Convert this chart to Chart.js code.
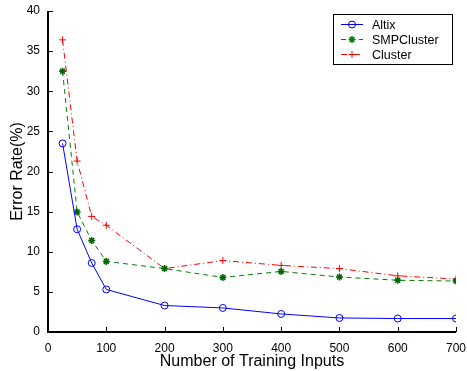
<!DOCTYPE html>
<html>
<head>
<meta charset="utf-8">
<script src="https://cdn.jsdelivr.net/npm/chart.js@4/dist/chart.umd.min.js"></script>
<style>
html,body{margin:0;padding:0;background:#fff;}
#wrap{width:467px;height:371px;position:relative;}
</style>
</head>
<body>
<div id="wrap"><canvas id="c" width="467" height="371"></canvas></div>
<script>
const inputs = [25, 50, 75, 100, 200, 300, 400, 500, 600, 700];
const altix = [23.5, 12.8, 8.6, 5.3, 3.3, 3.0, 2.25, 1.75, 1.68, 1.68];
const smpCluster = [32.5, 14.95, 11.4, 8.8, 7.9, 6.8, 7.55, 6.85, 6.45, 6.35];
const cluster = [36.4, 21.3, 14.4, 13.3, 7.9, 8.9, 8.3, 7.9, 7.0, 6.6];
const xTicks = [0, 100, 200, 300, 400, 500, 600, 700];
const yTicks = [0, 5, 10, 15, 20, 25, 30, 35, 40];
const seriesNames = ['Altix', 'SMPCluster', 'Cluster'];

const FONT = 'Liberation Sans, Arial, Helvetica, sans-serif';
const toXY = arr => arr.map((v, i) => ({x: inputs[i], y: v}));

// inward ticks + axis lines (MATLAB style)
const axesPlugin = {
  id: 'matlabAxes',
  afterDatasetsDraw(chart) {
    const {ctx, chartArea: a, scales: {x, y}} = chart;
    ctx.save();
    ctx.strokeStyle = '#000';
    ctx.lineWidth = 1;
    ctx.beginPath();
    xTicks.forEach(t => {
      const px = Math.round(x.getPixelForValue(t)) + 0.5;
      ctx.moveTo(px, a.bottom); ctx.lineTo(px, a.bottom - 5);
    });
    yTicks.forEach(t => {
      const py = Math.round(y.getPixelForValue(t)) + 0.5;
      ctx.moveTo(a.left, py); ctx.lineTo(a.left + 5, py);
    });
    ctx.stroke();
    ctx.lineWidth = 2;
    ctx.beginPath();
    ctx.moveTo(a.left, a.top); ctx.lineTo(a.left, a.bottom);
    ctx.lineTo(a.right, a.bottom);
    ctx.stroke();
    ctx.restore();
  }
};

// MATLAB-like legend box
const legendPlugin = {
  id: 'matlabLegend',
  afterDraw(chart) {
    const {ctx} = chart;
    const bx = 333.5, by = 14.5, bw = 119, bh = 50;
    ctx.save();
    ctx.fillStyle = '#fff';
    ctx.fillRect(bx, by, bw, bh);
    ctx.strokeStyle = '#000';
    ctx.lineWidth = 1;
    ctx.strokeRect(bx, by, bw, bh);
    ctx.font = '12.5px ' + FONT;
    ctx.textBaseline = 'middle';
    chart.data.datasets.forEach((ds, i) => {
      const ly = 24.5 + i * 15;
      ctx.strokeStyle = ds.borderColor;
      ctx.fillStyle = ds.pointBackgroundColor;
      ctx.lineWidth = 1;
      ctx.setLineDash(ds.borderDash || []);
      ctx.beginPath();
      ctx.moveTo(341, ly); ctx.lineTo(363, ly);
      ctx.stroke();
      ctx.setLineDash([]);
      ctx.lineWidth = ds.pointBorderWidth;
      Chart.helpers.drawPoint(ctx, {
        pointStyle: ds.pointStyle, radius: ds.pointRadius, borderWidth: ds.pointBorderWidth, rotation: 0
      }, 352, ly);
      ctx.fillStyle = '#000';
      ctx.fillText(ds.label, 372, ly + 1);
    });
    ctx.restore();
  }
};

new Chart(document.getElementById('c'), {
  type: 'line',
  data: {
    datasets: [
      {label: seriesNames[0], data: toXY(altix), borderColor: '#0000ff', backgroundColor: 'rgba(0,0,0,0)',
       borderWidth: 1, pointStyle: 'circle', pointRadius: 3.5, pointBorderColor: '#0000ff',
       pointBackgroundColor: 'rgba(0,0,0,0)', pointBorderWidth: 1, tension: 0},
      {label: seriesNames[1], data: toXY(smpCluster), borderColor: '#008000', backgroundColor: '#008000',
       borderWidth: 1, borderDash: [5, 4], pointStyle: 'star', pointRadius: 3.5, pointBorderColor: '#006400',
       pointBackgroundColor: '#006400', pointBorderWidth: 1.5, tension: 0},
      {label: seriesNames[2], data: toXY(cluster), borderColor: '#ff0000', backgroundColor: '#ff0000',
       borderWidth: 1, borderDash: [6, 3, 1, 3], pointStyle: 'cross', pointRadius: 3.5, pointBorderColor: '#ff0000',
       pointBackgroundColor: '#ff0000', pointBorderWidth: 1, tension: 0}
    ]
  },
  options: {
    responsive: false,
    animation: false,
    layout: {padding: {top: 11, right: 11, left: 8, bottom: 0}},
    plugins: {legend: {display: false}, tooltip: {enabled: false}},
    scales: {
      x: {
        type: 'linear', min: 0, max: 700,
        afterBuildTicks: s => { s.ticks = xTicks.map(v => ({value: v})); },
        afterFit: s => { s.height = 39; s.paddingLeft = 0; s.paddingRight = 0; },
        grid: {display: false, drawTicks: false},
        border: {display: false},
        ticks: {color: '#000', font: {family: FONT, size: 12}, padding: 9, maxRotation: 0},
        title: {display: true, text: 'Number of Training Inputs', color: '#000',
                font: {family: FONT, size: 16}, padding: {top: -2, bottom: 0}}
      },
      y: {
        type: 'linear', min: 0, max: 40,
        afterBuildTicks: s => { s.ticks = yTicks.map(v => ({value: v})); },
        afterFit: s => { s.width = 40; s.paddingTop = 0; s.paddingBottom = 0; },
        grid: {display: false, drawTicks: false},
        border: {display: false},
        ticks: {color: '#000', font: {family: FONT, size: 12}, padding: 8},
        title: {display: true, text: 'Error Rate(%)', color: '#000',
                font: {family: FONT, size: 16}, padding: {top: 0, bottom: 0}}
      }
    }
  },
  plugins: [axesPlugin, legendPlugin]
});
</script>
</body>
</html>
